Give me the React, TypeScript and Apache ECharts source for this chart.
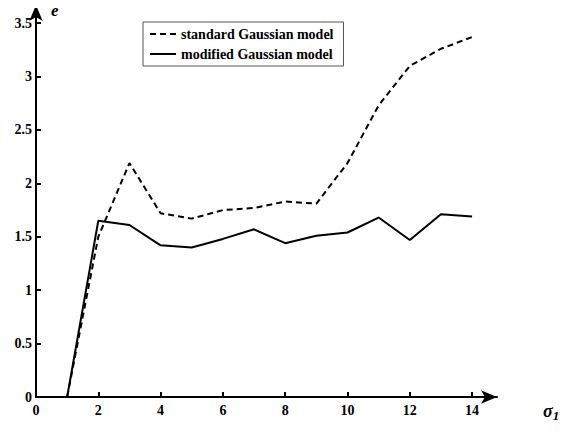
import React, { useEffect, useRef } from "react";
import * as echarts from "echarts";

const sigma = [1, 2, 3, 4, 5, 6, 7, 8, 9, 10, 11, 12, 13, 14];
const standardGaussian = [0, 1.5, 2.19, 1.72, 1.67, 1.75, 1.77, 1.83, 1.81, 2.19, 2.73, 3.1, 3.26, 3.37];
const modifiedGaussian = [0, 1.65, 1.61, 1.42, 1.4, 1.48, 1.57, 1.44, 1.51, 1.54, 1.68, 1.47, 1.71, 1.69];
const xTicks = [0, 2, 4, 6, 8, 10, 12, 14];
const yTicks = [0, 0.5, 1, 1.5, 2, 2.5, 3, 3.5];
const seriesNames = ["standard Gaussian model", "modified Gaussian model"];

const FONT = "'Liberation Serif', 'Times New Roman', serif";

export default function App() {
  const ref = useRef<HTMLDivElement>(null);
  useEffect(() => {
    const chart = echarts.init(ref.current!, null, { renderer: "svg" });
    chart.setOption({
      animation: false,
      backgroundColor: "#fff",
      grid: { left: 36, right: 77, top: 5, bottom: 35, containLabel: false },
      legend: {
        left: 143,
        top: 22,
        orient: "vertical",
        itemWidth: 26,
        itemHeight: 10,
        itemGap: 6,
        padding: [5, 10, 5, 6],
        borderColor: "#555",
        borderWidth: 1,
        itemStyle: { opacity: 0 },
        textStyle: { fontFamily: FONT, fontWeight: "bold", fontSize: 14, color: "#000" },
        data: seriesNames,
      },
      xAxis: {
        type: "value",
        min: 0,
        max: 14.8,
        splitLine: { show: false },
        axisLine: {
          onZero: false,
          lineStyle: { color: "#000", width: 2 },
          symbol: ["none", "arrow"],
          symbolSize: [10, 16],
        },
        axisTick: { inside: true, length: 5, lineStyle: { color: "#000", width: 2 }, customValues: xTicks },
        axisLabel: {
          customValues: xTicks,
          margin: 6,
          fontFamily: FONT,
          fontWeight: "bold",
          fontSize: 14,
          color: "#000",
        },
      },
      yAxis: {
        type: "value",
        min: 0,
        max: 3.67,
        splitLine: { show: false },
        axisLine: {
          onZero: false,
          lineStyle: { color: "#000", width: 2 },
          symbol: ["none", "arrow"],
          symbolSize: [10, 16],
        },
        axisTick: { inside: true, length: 5, lineStyle: { color: "#000", width: 2 }, customValues: yTicks },
        axisLabel: {
          customValues: yTicks,
          margin: 4,
          fontFamily: FONT,
          fontWeight: "bold",
          fontSize: 14,
          color: "#000",
        },
      },
      graphic: [
        {
          type: "text",
          left: 51,
          top: 2,
          style: { text: "e", font: `italic bold 17px ${FONT}`, fill: "#000" },
        },
        {
          type: "text",
          left: 543,
          top: 402,
          style: {
            text: "{s|σ}{i|1}",
            rich: {
              s: { font: `italic bold 18px ${FONT}`, fill: "#000" },
              i: { font: `italic bold 13px ${FONT}`, fill: "#000", padding: [9, 0, 0, 0] },
            },
          },
        },
      ],
      series: [
        {
          name: seriesNames[0],
          type: "line",
          data: sigma.map((x, i) => [x, standardGaussian[i]]),
          symbol: "none",
          showSymbol: false,
          lineStyle: { color: "#000", width: 2, type: [6, 4] },
          itemStyle: { color: "#000" },
        },
        {
          name: seriesNames[1],
          type: "line",
          data: sigma.map((x, i) => [x, modifiedGaussian[i]]),
          symbol: "none",
          showSymbol: false,
          lineStyle: { color: "#000", width: 2, type: "solid" },
          itemStyle: { color: "#000" },
        },
      ],
    });
    return () => chart.dispose();
  }, []);
  return <div ref={ref} style={{ width: 574, height: 432, margin: -8 }} />;
}
